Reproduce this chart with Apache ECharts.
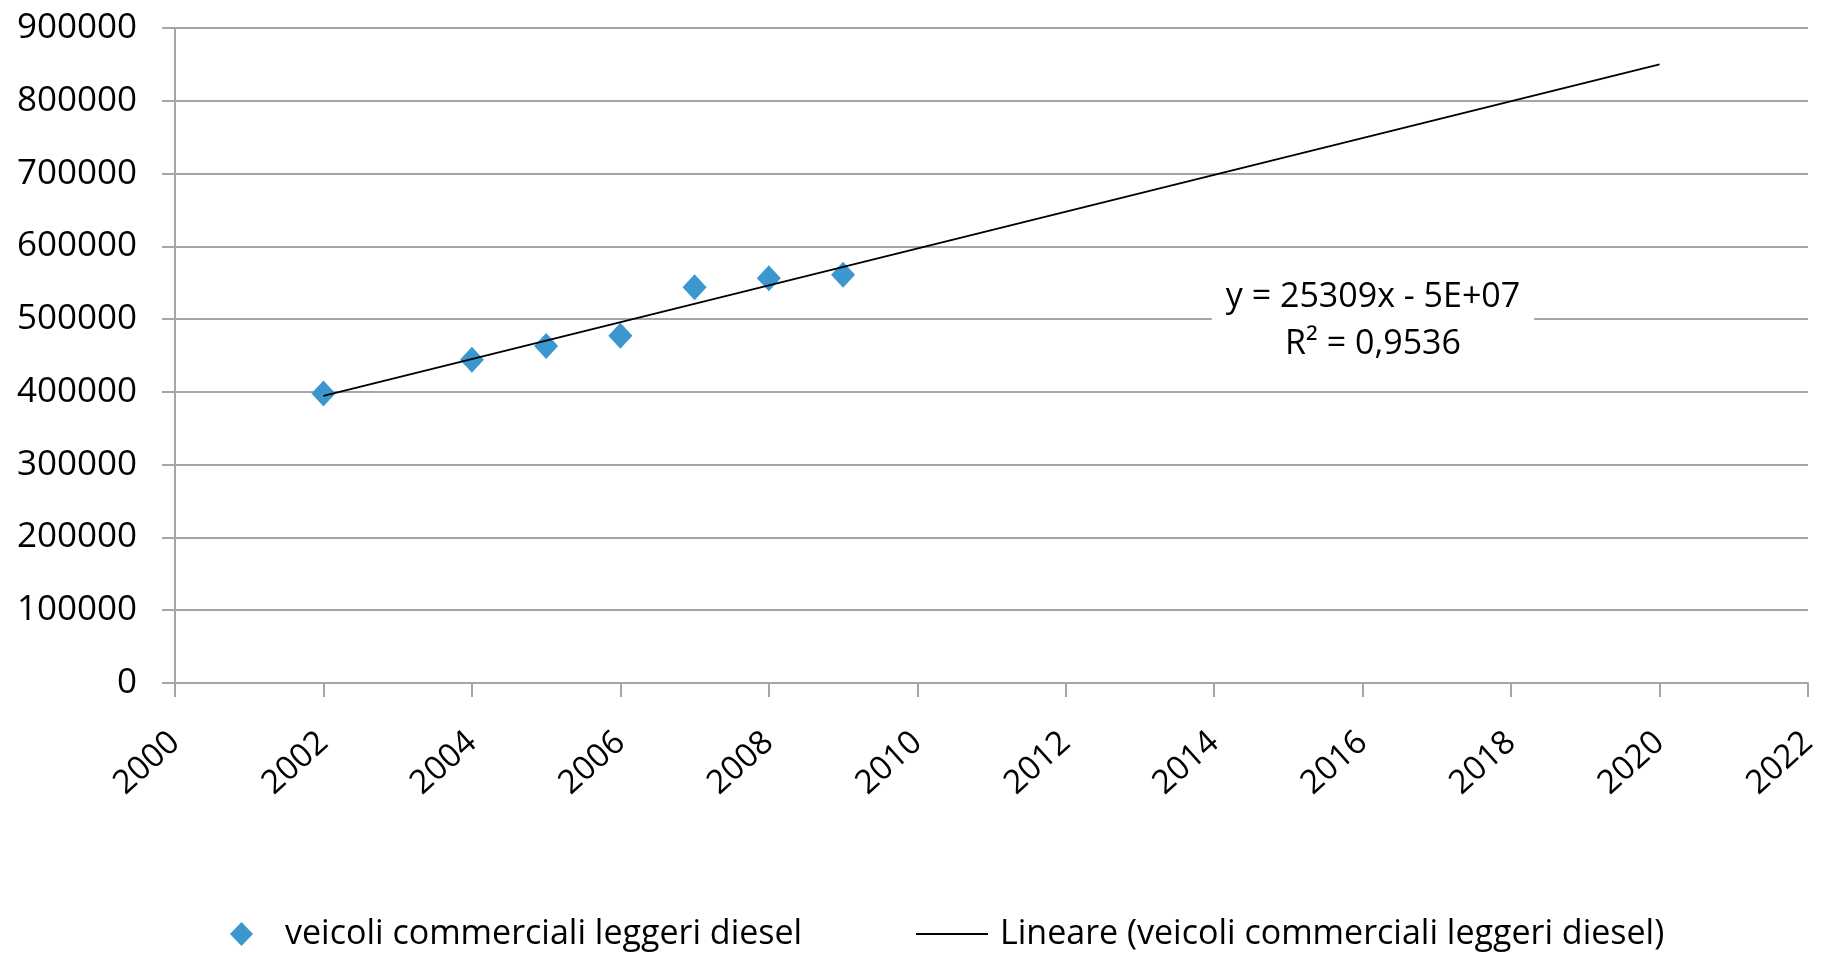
<!DOCTYPE html>
<html>
<head>
<meta charset="utf-8">
<title>veicoli commerciali leggeri diesel</title>
<script src="https://cdn.jsdelivr.net/npm/echarts@6/dist/echarts.min.js"></script>
<style>
html, body { margin: 0; padding: 0; background: #fff; }
#chart { width: 1825px; height: 953px; }
</style>
</head>
<body>
<div id="chart"></div>
<script>
// valori
var years = [2002, 2004, 2005, 2006, 2007, 2008, 2009];
var vehicles = [397700, 444100, 463000, 477200, 543900, 556300, 560900];
// estremi della linea di tendenza (2002 -> 2020)
var trendYears = [2002, 2020];
var trendValues = [394500, 850000];

var seriesName = 'veicoli commerciali leggeri diesel';
var trendName = 'Lineare (veicoli commerciali leggeri diesel)';
var font = 'Open Sans';
var gridColor = '#a6a6a6';

var myChart = echarts.init(document.getElementById('chart'));

var option = {
    animation: false,
    backgroundColor: '#fff',
    grid: {
        left: 175,
        right: 17,
        top: 28,
        bottom: 270
    },
    legend: [
        {
            data: [seriesName],
            left: 225,
            top: 912,
            icon: 'diamond',
            itemWidth: 23,
            itemHeight: 24,
            textStyle: { fontFamily: font, fontSize: 34, color: '#000', padding: [0, 0, 0, 27] }
        },
        {
            data: [trendName],
            left: 911,
            top: 912,
            icon: 'rect',
            itemWidth: 72,
            itemHeight: 2,
            itemStyle: { color: '#000' },
            textStyle: { fontFamily: font, fontSize: 34, color: '#000', padding: [0, 0, 0, 7] }
        }
    ],
    xAxis: {
        type: 'value',
        min: 2000,
        max: 2022,
        interval: 2,
        axisLine: { show: true, lineStyle: { color: gridColor, width: 2 } },
        axisTick: { show: true, length: 14, lineStyle: { color: gridColor, width: 2 } },
        splitLine: { show: false },
        axisLabel: {
            rotate: 42,
            margin: 55,
            fontFamily: font,
            fontSize: 33,
            color: '#000',
            formatter: function (v) { return String(v); }
        }
    },
    yAxis: {
        type: 'value',
        min: 0,
        max: 900000,
        interval: 100000,
        axisLine: { show: true, lineStyle: { color: gridColor, width: 2 } },
        axisTick: { show: true, length: 13, lineStyle: { color: gridColor, width: 2 } },
        splitLine: { show: true, lineStyle: { color: gridColor, width: 2 } },
        axisLabel: {
            margin: 38,
            fontFamily: font,
            fontSize: 35,
            color: '#000',
            formatter: function (v) { return String(v); }
        }
    },
    graphic: [
        {
            type: 'text',
            x: 1373,
            y: 272,
            z: 100,
            style: {
                text: 'y = 25309x - 5E+07\nR² = 0,9536',
                font: '34px "Open Sans"',
                fill: '#000',
                align: 'center',
                lineHeight: 47,
                backgroundColor: '#fff',
                padding: [2, 14, 2, 14]
            }
        }
    ],
    series: [
        {
            name: trendName,
            type: 'line',
            symbol: 'none',
            z: 3,
            lineStyle: { color: '#000', width: 2 },
            itemStyle: { color: '#000' },
            data: trendYears.map(function (y, i) { return [y, trendValues[i]]; })
        },
        {
            name: seriesName,
            type: 'scatter',
            symbol: 'diamond',
            symbolSize: [24, 26],
            z: 2,
            itemStyle: { color: '#3a98cf', opacity: 1 },
            data: years.map(function (y, i) { return [y, vehicles[i]]; })
        }
    ]
};

myChart.setOption(option);
</script>
</body>
</html>
